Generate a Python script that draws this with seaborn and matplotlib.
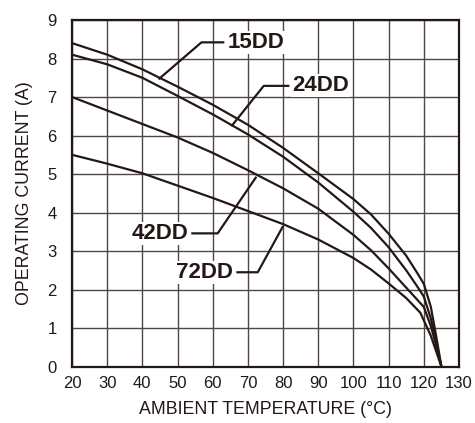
import matplotlib
matplotlib.use("Agg")
import matplotlib.pyplot as plt
import pandas as pd
import seaborn as sns

# ---- data -------------------------------------------------------------
models = ["15DD", "24DD", "42DD", "72DD"]

temp_15dd = [20, 30, 40, 50, 60, 70, 80, 90, 100, 105, 110, 115, 118, 120, 122, 123.5, 125]
curr_15dd = [8.4, 8.1, 7.72, 7.27, 6.8, 6.28, 5.68, 5.02, 4.35, 3.95, 3.45, 2.88, 2.45, 2.15, 1.55, 0.8, 0.0]

temp_24dd = [20, 30, 40, 50, 60, 70, 80, 90, 100, 105, 110, 115, 118, 120, 122, 123.5, 125]
curr_24dd = [8.1, 7.85, 7.5, 7.03, 6.55, 6.03, 5.45, 4.78, 4.02, 3.6, 3.1, 2.5, 2.1, 1.82, 1.25, 0.65, 0.0]

temp_42dd = [20, 30, 40, 50, 60, 70, 80, 90, 100, 105, 110, 115, 118, 120, 122, 123.5, 125]
curr_42dd = [7.0, 6.65, 6.3, 5.95, 5.55, 5.1, 4.63, 4.1, 3.42, 3.02, 2.55, 2.05, 1.75, 1.55, 1.05, 0.55, 0.0]

temp_72dd = [20, 30, 40, 50, 60, 70, 80, 90, 100, 105, 110, 115, 119, 122, 125]
curr_72dd = [5.5, 5.27, 5.02, 4.7, 4.38, 4.04, 3.7, 3.3, 2.82, 2.52, 2.16, 1.78, 1.4, 0.8, 0.0]

x_ticks = [20, 30, 40, 50, 60, 70, 80, 90, 100, 110, 120, 130]
y_ticks = [0, 1, 2, 3, 4, 5, 6, 7, 8, 9]

# label leader lines: (point on curve, elbow, end of horizontal), text side
leader_x = {"15DD": [44.6, 56.8, 63.3], "24DD": [65.3, 74.5, 81.8],
            "42DD": [72.4, 61.4, 53.9], "72DD": [80.0, 72.8, 66.7]}
leader_y = {"15DD": [7.46, 8.42, 8.42], "24DD": [6.24, 7.29, 7.29],
            "42DD": [4.93, 3.46, 3.46], "72DD": [3.65, 2.45, 2.45]}
label_side = {"15DD": "left", "24DD": "left", "42DD": "right", "72DD": "right"}

# ---- build frame ------------------------------------------------------
frames = []
for name, t, c in [("15DD", temp_15dd, curr_15dd), ("24DD", temp_24dd, curr_24dd),
                   ("42DD", temp_42dd, curr_42dd), ("72DD", temp_72dd, curr_72dd)]:
    frames.append(pd.DataFrame({"temp": t, "current": c, "model": name}))
df = pd.concat(frames, ignore_index=True)

# ---- style ------------------------------------------------------------
sns.set_style("white")
plt.rcParams["font.family"] = ["Liberation Sans", "DejaVu Sans"]
ink = "#231815"
grid_c = "#4f4746"

fig = plt.figure(figsize=(4.75, 4.23), dpi=100)
ax = fig.add_axes([0.1516, 0.1333, 0.8147, 0.8194])

sns.lineplot(data=df, x="temp", y="current", hue="model", units="model",
             estimator=None, sort=False, palette={m: ink for m in models},
             linewidth=1.6, legend=False, ax=ax, zorder=3)

ax.set_xlim(20, 130)
ax.set_ylim(0, 9)
ax.set_xticks(x_ticks)
ax.set_yticks(y_ticks)
ax.grid(True, color=grid_c, linewidth=1.0, zorder=0)
ax.set_axisbelow(True)
for s in ax.spines.values():
    s.set_color(ink)
    s.set_linewidth(1.6)
    s.set_visible(True)
ax.tick_params(axis="both", length=0, labelsize=12, colors=ink)
ax.tick_params(axis="y", pad=11)
ax.tick_params(axis="x", pad=7)
ax.set_xlabel("AMBIENT TEMPERATURE (°C)", fontsize=12.8, color=ink, labelpad=7)
ax.set_ylabel("OPERATING CURRENT (A)", fontsize=12.8, color=ink, labelpad=10)

for m in models:
    lx, ly = leader_x[m], leader_y[m]
    ax.plot(lx, ly, color=ink, linewidth=1.6, zorder=4, solid_capstyle="butt")
    if label_side[m] == "left":
        tx, ha = lx[-1] + 0.9, "left"
    else:
        tx, ha = lx[-1] - 0.9, "right"
    ax.text(tx, ly[-1], m, ha=ha, va="center", fontsize=16, fontweight="bold",
            color=ink, zorder=5,
            bbox=dict(boxstyle="square,pad=0.05", fc="white", ec="none"))

fig.savefig("out.png", dpi=100)
